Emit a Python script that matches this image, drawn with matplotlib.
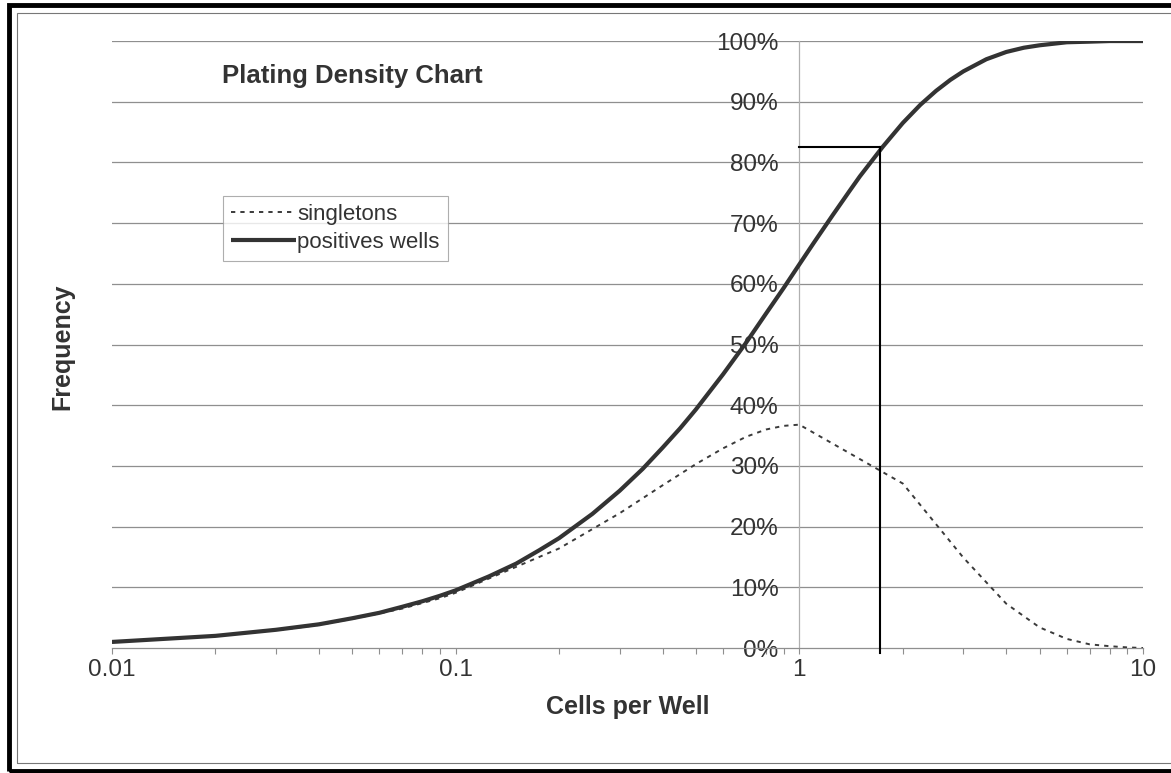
import matplotlib.pyplot as plt
from matplotlib.patches import Rectangle
from matplotlib.ticker import FixedLocator, NullFormatter

plt.rcParams['font.family'] = ['Liberation Sans', 'DejaVu Sans']

# cells per well (log axis)
cells = [0.01, 0.02, 0.03, 0.04, 0.05, 0.06, 0.07, 0.08, 0.09,
         0.1, 0.2, 0.3, 0.4, 0.5, 0.6, 0.7, 0.8, 0.9,
         1, 2, 3, 4, 5, 6, 7, 8, 9, 10]

# singletons frequency (dashed)
singletons = [0.010, 0.020, 0.029, 0.038, 0.048, 0.057, 0.065, 0.074, 0.082,
              0.091, 0.164, 0.222, 0.268, 0.303, 0.329, 0.348, 0.360, 0.366,
              0.368, 0.271, 0.149, 0.073, 0.034, 0.015, 0.006, 0.003, 0.001, 0.000]

# positive wells frequency (solid), read on a finer grid
pos_cells = [0.01, 0.02, 0.03, 0.04, 0.05, 0.06, 0.07, 0.08, 0.09,
             0.1, 0.125, 0.15, 0.175, 0.2, 0.25, 0.3, 0.35, 0.4, 0.45, 0.5,
             0.6, 0.7, 0.8, 0.9, 1, 1.1, 1.25, 1.4, 1.5, 1.75, 2, 2.25, 2.5,
             2.75, 3, 3.5, 4, 4.5, 5, 6, 7, 8, 9, 10]
positives = [0.010, 0.020, 0.030, 0.039, 0.049, 0.058, 0.068, 0.077, 0.086,
             0.095, 0.118, 0.139, 0.161, 0.181, 0.221, 0.259, 0.295, 0.330, 0.362, 0.393,
             0.451, 0.503, 0.551, 0.593, 0.632, 0.667, 0.713, 0.753, 0.777, 0.826, 0.865,
             0.895, 0.918, 0.936, 0.950, 0.970, 0.982, 0.989, 0.993, 0.998, 0.999,
             1.000, 1.000, 1.000]

# read-off marker lines
target_x = 1.72
target_y = 0.825

fig = plt.figure(figsize=(11.71, 7.73), dpi=100)
ax = fig.add_axes([0.0956, 0.1617, 0.8805, 0.7852])

ax.set_xscale('log')
ax.set_xlim(0.01, 10)
ax.set_ylim(0, 1.0)

# horizontal gridlines
for g in [0.1 * i for i in range(1, 11)]:
    ax.axhline(g, color='#8f8f8f', lw=0.9, zorder=1)

ax.plot(cells, singletons, color='#3a3a3a', lw=1.4, linestyle=(0, (2.2, 2.6)),
        label='singletons', zorder=3)
ax.plot(pos_cells, positives, color='#333333', lw=3.0, solid_capstyle='butt',
        solid_joinstyle='round', label='positives wells', zorder=4)

# marker lines
ax.plot([1, target_x], [target_y, target_y], color='black', lw=1.5, zorder=5)
ax.plot([target_x, target_x], [-0.008, target_y], color='black', lw=1.5,
        zorder=5, clip_on=False)

# spines: y axis sits at x = 1
for s in ['top', 'right']:
    ax.spines[s].set_visible(False)
ax.spines['left'].set_position(('data', 1))
ax.spines['left'].set_color('#b0b0b0')
ax.spines['left'].set_linewidth(0.9)
ax.spines['bottom'].set_color('#8f8f8f')
ax.spines['bottom'].set_linewidth(0.9)

ax.set_yticks([0.1 * i for i in range(11)])
ax.set_yticklabels(['%d%%' % (10 * i) for i in range(11)])
ax.tick_params(axis='y', length=0, pad=15, labelsize=17.5, labelcolor='#333333')

ax.set_xticks([0.01, 0.1, 1, 10])
ax.set_xticklabels(['0.01', '0.1', '1', '10'])
ax.xaxis.set_minor_locator(FixedLocator(
    [m * d for d in [0.01, 0.1, 1] for m in range(2, 10)]))
ax.xaxis.set_minor_formatter(NullFormatter())
ax.tick_params(axis='x', which='both', direction='out', length=4, width=0.8,
               color='#8f8f8f', pad=4, labelsize=17.5, labelcolor='#333333')

ax.set_xlabel('Cells per Well', fontsize=18, fontweight='bold', color='#333333',
              labelpad=10)
fig.text(0.053, 0.552, 'Frequency', rotation=90, fontsize=18, fontweight='bold',
         color='#333333', ha='center', va='center')

ax.text(0.1067, 0.942, 'Plating Density Chart', transform=ax.transAxes,
        fontsize=18.5, fontweight='bold', color='#333333', ha='left', va='center')

leg = ax.legend(loc='upper left', bbox_to_anchor=(0.1077, 0.745), borderaxespad=0,
                fontsize=16, frameon=True, fancybox=False, handlelength=2.9,
                handletextpad=0.05, borderpad=0.38, labelspacing=0.3)
leg.get_frame().set_edgecolor('#9a9a9a')
leg.get_frame().set_linewidth(0.8)
for t in leg.get_texts():
    t.set_color('#333333')

# page frame
fig.patches.append(Rectangle((0.0075, 0.003), 1.1, 0.99, transform=fig.transFigure,
                             fill=False, edgecolor='black', lw=3.5))
fig.patches.append(Rectangle((0.0145, 0.013), 1.1, 0.9705, transform=fig.transFigure,
                             fill=False, edgecolor='#777777', lw=0.8))

fig.savefig('out.png', dpi=100)
